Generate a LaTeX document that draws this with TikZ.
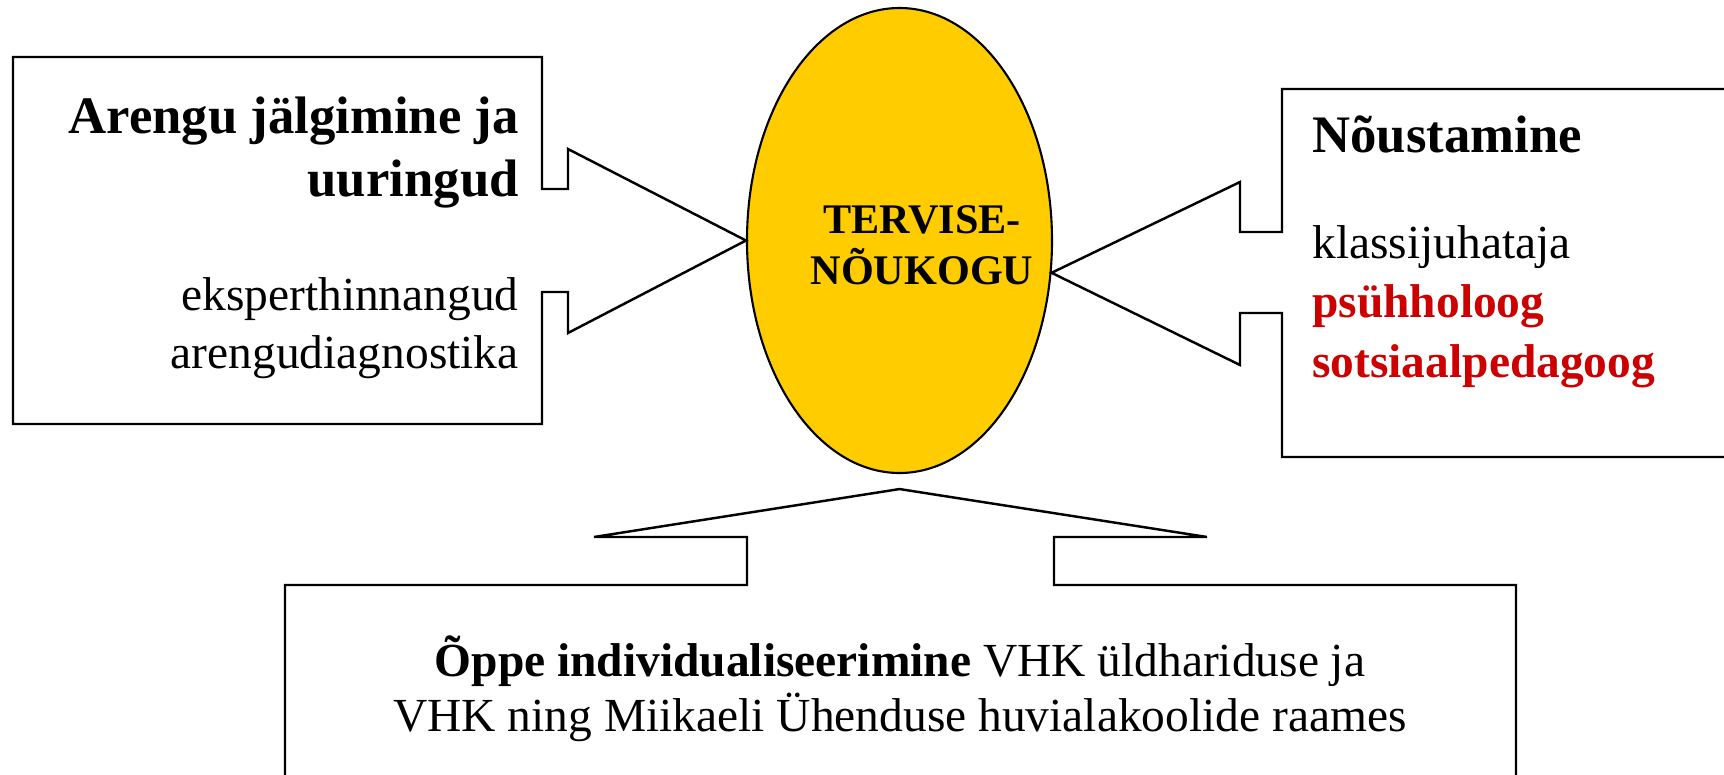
\documentclass[tikz,border=0pt]{standalone}
\usepackage{fontspec}
\setmainfont{Liberation Serif}
\usetikzlibrary{shapes.geometric,positioning}
\definecolor{nkgold}{RGB}{255,204,0}
\definecolor{nkred}{RGB}{204,0,0}
\tikzset{sh/.style={draw,line width=1.4pt,line join=miter},
 ov/.style={ellipse,draw,line width=1.2pt,fill=nkgold,minimum width=6.1cm,minimum height=9.3cm,inner sep=0pt},
 hd/.style={font=\fontsize{30}{35.3}\selectfont\bfseries,inner sep=0pt},
 txt/.style={font=\fontsize{27}{33}\selectfont,inner sep=0pt}}

\begin{document}
\begin{tikzpicture}[x=1cm,y=1cm]
\useasboundingbox (0,0) rectangle (34.48,-15.5);
\node[ov](nk) at (17.99,-4.81){};
\node[hd,font=\fontsize{24}{29}\selectfont\bfseries,align=center,anchor=base](nkt) at (18.44,-5.68){TERVISE-\\NÕUKOGU};
% left block with arrow
\draw[sh] (0.26,-1.14) -| (10.84,-3.78) -- (11.36,-3.78) -- (11.36,-2.98) -- (nk.west)
 -- (11.36,-6.66) -- (11.36,-5.84) -- (10.84,-5.84) |- (0.26,-8.48) -- cycle;
% right block with arrow
\draw[sh] (35,-1.78) -| (25.64,-4.64) -- (24.8,-4.64) -- (24.8,-3.64) -- (nk.-12)
 -- (24.8,-7.3) -- (24.8,-6.26) -- (25.64,-6.26) |- (35,-9.14);
% bottom block with arrow
\draw[sh] (5.7,-16) |- (14.94,-11.7) -- (14.94,-10.74) -- (11.88,-10.74) -- ([yshift=-0.3cm]nk.south)
 -- (24.14,-10.74) -- (21.08,-10.74) -- (21.08,-11.7) -| (30.32,-16);
\node[hd,align=right,anchor=base east](arg) at (10.38,-3.92){Arengu jälgimine ja\\uuringud};
\node[txt,align=right,anchor=base east](eks) at (10.38,-7.36){eksperthinnangud\\arengudiagnostika};
\node[hd,anchor=base west](nou) at (26.24,-3.04){Nõustamine};
\node[txt,font=\fontsize{27}{33.6}\selectfont,align=left,anchor=base west](kla) at (26.24,-7.54){klassijuhataja\\\textcolor{nkred}{\textbf{psühholoog}}\\\textcolor{nkred}{\textbf{sotsiaalpedagoog}}};
\node[txt,font=\fontsize{27}{31.3}\selectfont,align=center,anchor=base](opp) at (18,-14.62){\textbf{Õppe individualiseerimine} VHK üldhariduse ja\\VHK ning Miikaeli Ühenduse huvialakoolide raames};
\end{tikzpicture}
\end{document}
